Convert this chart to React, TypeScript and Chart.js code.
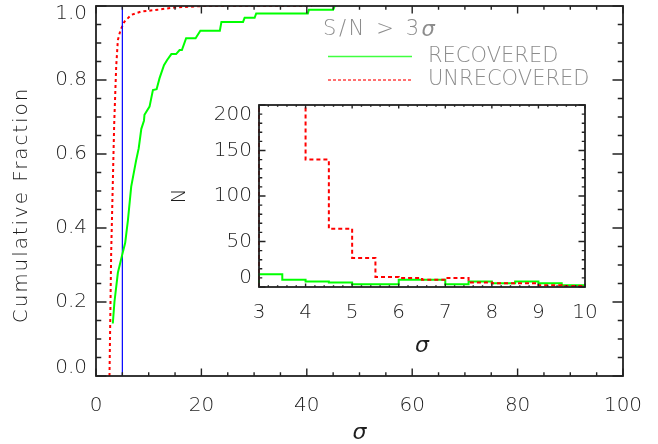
import React, { useEffect, useRef } from 'react';
import { Chart, registerables } from 'chart.js';

Chart.register(...registerables);

const FONT = "'DejaVu Sans', sans-serif";
const TEXT = '#1e1e1e';
const LEGEND_TEXT = '#8c8c8c';
const W = 300;

// ---- main panel data (cumulative fractions) ----
const recoveredSigma = [3.19, 3.5, 4.15, 4.98, 5.54, 6.05, 6.68, 7.63, 8.1, 8.6, 9.1, 9.2, 10.16, 10.8, 11.5, 12.06, 12.9, 13.5, 14.3, 15.2, 15.86, 16.3, 17.1, 18.9, 19.8, 23.5, 23.8, 27.9, 28.2, 30.1, 30.4, 40.2, 40.4, 45.0, 45.3];
const recoveredFrac = [0.142, 0.2, 0.279, 0.328, 0.36, 0.42, 0.512, 0.584, 0.615, 0.668, 0.69, 0.706, 0.728, 0.773, 0.775, 0.805, 0.84, 0.854, 0.87, 0.87, 0.881, 0.881, 0.913, 0.913, 0.933, 0.933, 0.957, 0.957, 0.968, 0.968, 0.98, 0.98, 0.99, 0.99, 1.0];
const unrecoveredSigma = [2.56, 2.88, 3.45, 3.83, 4.15, 4.65, 5.41, 6.68, 8.58, 11.7, 14.9, 20.6, 41.0];
const unrecoveredFrac = [0.0, 0.333, 0.68, 0.836, 0.908, 0.935, 0.958, 0.976, 0.985, 0.99, 0.996, 1.0, 1.0];
const thresholdSigma = 5;
const mainXTicks = [0, 20, 40, 60, 80, 100];
const mainYTicks = [0, 0.2, 0.4, 0.6, 0.8, 1.0];

// ---- inset data (histograms, bin width 0.5) ----
const binEdges = [3, 3.5, 4, 4.5, 5, 5.5, 6, 6.5, 7, 7.5, 8, 8.5, 9, 9.5, 10];
const recoveredCounts = [14, 8, 6, 5, 3, 3, 8, 8, 3, 6, 4, 6, 4, 2];
const unrecoveredCounts = [1500, 1100, 140, 64, 32, 11, 10, 8, 10, 5, 4, 4, 2, 1];
const insetXTicks = [3, 4, 5, 6, 7, 8, 9, 10];
const insetYTicks = [0, 50, 100, 150, 200];

const seriesLabels = ['RECOVERED', 'UNRECOVERED'];
const legendTitle = 'S/N > 3';
const legendTitleSymbol = 'σ';
const mainYTitle = 'Cumulative Fraction';

const GREEN = '#00ff00';
const RED = '#ff0000';
const BLUE = '#0000ff';

function zip(xs: number[], ys: number[]) {
  return xs.map((x, i) => ({ x, y: ys[i] }));
}

function histPoints(edges: number[], counts: number[]) {
  const pts = [{ x: edges[0], y: 0 }];
  edges.forEach((e, i) => pts.push({ x: e, y: counts[Math.min(i, counts.length - 1)] }));
  return pts;
}

function zeroPad(s: any) {
  s.paddingLeft = 0;
  s.paddingRight = 0;
  s.paddingTop = 0;
  s.paddingBottom = 0;
}

const framePlugin = {
  id: 'idlFrame',
  afterDatasetsDraw(chart: any, _args: any, o: any) {
    const { ctx, chartArea: a, scales } = chart;
    const xs = scales.x;
    const ys = scales.y;
    ctx.save();
    ctx.strokeStyle = '#222';
    ctx.lineWidth = 1.4;
    ctx.beginPath();
    const nx = Math.round((xs.max - xs.min) / o.xMinor);
    for (let i = 0; i <= nx; i++) {
      const v = xs.min + i * o.xMinor;
      const px = xs.getPixelForValue(v);
      const len = i % o.xEvery === 0 ? o.xLen : o.xLen / 2;
      ctx.moveTo(px, a.bottom);
      ctx.lineTo(px, a.bottom - len);
      ctx.moveTo(px, a.top);
      ctx.lineTo(px, a.top + len);
    }
    const ny = Math.round((ys.max - ys.min) / o.yMinor);
    for (let i = 0; i <= ny; i++) {
      const v = ys.min + i * o.yMinor;
      const py = ys.getPixelForValue(v);
      const len = i % o.yEvery === 0 ? o.yLen : o.yLen / 2;
      ctx.moveTo(a.left, py);
      ctx.lineTo(a.left + len, py);
      ctx.moveTo(a.right, py);
      ctx.lineTo(a.right - len, py);
    }
    ctx.stroke();
    ctx.lineWidth = 1.8;
    ctx.strokeRect(a.left, a.top, a.right - a.left, a.bottom - a.top);
    ctx.restore();
  },
};

const legendPlugin = {
  id: 'idlLegend',
  afterDraw(chart: any) {
    const { ctx, chartArea: a } = chart;
    ctx.save();
    // rotated y-axis title
    ctx.fillStyle = TEXT;
    ctx.textAlign = 'center';
    ctx.textBaseline = 'middle';
    ctx.font = `${W} 20px ${FONT}`;
    (ctx as any).letterSpacing = '1.9px';
    ctx.translate(22, (a.top + a.bottom) / 2 + 14);
    ctx.rotate(-Math.PI / 2);
    ctx.fillText(mainYTitle, 0, 0);
    ctx.setTransform(1, 0, 0, 1, 0, 0);

    // legend
    ctx.fillStyle = LEGEND_TEXT;
    ctx.textAlign = 'left';
    ctx.font = `${W} 21px ${FONT}`;
    (ctx as any).letterSpacing = '2.6px';
    ctx.fillText(legendTitle, 323, 30);
    const w = ctx.measureText(legendTitle).width;
    ctx.font = `italic ${W} 21px ${FONT}`;
    ctx.fillText(legendTitleSymbol, 323 + w, 31);
    (ctx as any).letterSpacing = '0px';
    ctx.font = `${W} 21px ${FONT}`;
    const rows = [
      { label: seriesLabels[0], color: GREEN, dash: [] as number[], y: 56.5 },
      { label: seriesLabels[1], color: RED, dash: [3, 2], y: 80 },
    ];
    rows.forEach((r) => {
      ctx.save();
      ctx.strokeStyle = r.color;
      ctx.globalAlpha = 0.75;
      ctx.lineWidth = 1.6;
      ctx.setLineDash(r.dash);
      ctx.beginPath();
      ctx.moveTo(328, r.y);
      ctx.lineTo(412, r.y);
      ctx.stroke();
      ctx.restore();
      ctx.fillText(r.label, 428, r.y);
    });
    ctx.restore();
  },
};

function edgeLabel(v: number, min: number, max: number, text: string) {
  if (Math.abs(v - max) < 1e-9) return ['', text];
  if (Math.abs(v - min) < 1e-9) return [text, ''];
  return text;
}

export default function App() {
  const mainRef = useRef<HTMLCanvasElement>(null);
  const insetRef = useRef<HTMLCanvasElement>(null);

  useEffect(() => {
    const main = new Chart(mainRef.current as HTMLCanvasElement, {
      type: 'line',
      data: {
        datasets: [
          { label: seriesLabels[0], data: zip(recoveredSigma, recoveredFrac), borderColor: GREEN, borderWidth: 2, pointRadius: 0, tension: 0 },
          { label: 'threshold', data: [{ x: thresholdSigma, y: 0 }, { x: thresholdSigma, y: 1 }], borderColor: BLUE, borderWidth: 1.2, pointRadius: 0 },
          { label: seriesLabels[1], data: zip(unrecoveredSigma, unrecoveredFrac), borderColor: RED, borderWidth: 2, borderDash: [3, 3], pointRadius: 0, tension: 0 },
        ],
      },
      options: {
        animation: false,
        responsive: false,
        devicePixelRatio: 1,
        parsing: false as any,
        layout: { padding: { left: 0, top: 6, right: 35, bottom: 0 } },
        plugins: {
          legend: { display: false },
          tooltip: { enabled: false },
          idlFrame: { xMinor: 5, xEvery: 4, xLen: 7.4, yMinor: 0.05, yEvery: 4, yLen: 10.5 },
        } as any,
        scales: {
          x: {
            type: 'linear', min: 0, max: 100,
            grid: { display: false, drawTicks: false },
            border: { display: false },
            afterBuildTicks: (s: any) => { s.ticks = mainXTicks.map((value) => ({ value })); },
            ticks: { padding: 18, color: TEXT, font: { family: FONT, size: 20, weight: W }, callback: (v: any) => String(v), maxRotation: 0 },
            title: { display: true, text: 'σ', color: TEXT, font: { family: FONT, size: 22, style: 'italic', weight: W, lineHeight: 1 }, padding: { top: 0, bottom: 0 } },
            afterFit: (s: any) => { s.height = 68; zeroPad(s); },
          },
          y: {
            type: 'linear', min: 0, max: 1,
            grid: { display: false, drawTicks: false },
            border: { display: false },
            afterBuildTicks: (s: any) => { s.ticks = mainYTicks.map((value) => ({ value })); },
            ticks: {
              padding: 9, color: TEXT, font: { family: FONT, size: 20, weight: W, lineHeight: 16 / 20 },
              callback: (v: any) => edgeLabel(Number(v), 0, 1, Number(v).toFixed(1)),
            },
            title: { display: false },
            afterFit: (s: any) => { s.width = 96; zeroPad(s); },
          },
        } as any,
      },
      plugins: [framePlugin, legendPlugin],
    });

    const inset = new Chart(insetRef.current as HTMLCanvasElement, {
      type: 'line',
      data: {
        datasets: [
          { label: seriesLabels[1], data: histPoints(binEdges, unrecoveredCounts), borderColor: RED, borderWidth: 2, borderDash: [4, 3], pointRadius: 0, stepped: true, clip: { left: 2, right: 2, top: 0, bottom: 2 } },
          { label: seriesLabels[0], data: histPoints(binEdges, recoveredCounts), borderColor: GREEN, borderWidth: 2, pointRadius: 0, stepped: true, clip: { left: 2, right: 2, top: 0, bottom: 2 } },
        ],
      },
      options: {
        animation: false,
        responsive: false,
        devicePixelRatio: 1,
        parsing: false as any,
        layout: { padding: { left: 0, top: 15, right: 15, bottom: 0 } },
        plugins: {
          legend: { display: false },
          tooltip: { enabled: false },
          idlFrame: { xMinor: 0.2, xEvery: 5, xLen: 3.6, yMinor: 10, yEvery: 5, yLen: 6.5 },
        } as any,
        scales: {
          x: {
            type: 'linear', min: 3, max: 10,
            grid: { display: false, drawTicks: false },
            border: { display: false },
            afterBuildTicks: (s: any) => { s.ticks = insetXTicks.map((value) => ({ value })); },
            ticks: { padding: 14, color: TEXT, font: { family: FONT, size: 20, weight: W }, callback: (v: any) => String(v), maxRotation: 0 },
            title: { display: true, text: 'σ', color: TEXT, font: { family: FONT, size: 22, style: 'italic', weight: W, lineHeight: 1 }, padding: { top: 0, bottom: 3 } },
            afterFit: (s: any) => { s.height = 73; zeroPad(s); },
          },
          y: {
            type: 'linear', min: 0, max: 200,
            grid: { display: false, drawTicks: false },
            border: { display: false },
            afterBuildTicks: (s: any) => { s.ticks = insetYTicks.map((value) => ({ value })); },
            ticks: {
              padding: 7, color: TEXT, font: { family: FONT, size: 20, weight: W, lineHeight: 19 / 20 },
              callback: (v: any) => edgeLabel(Number(v), 0, 200, String(v)),
            },
            title: { display: true, text: 'N', color: TEXT, font: { family: FONT, size: 20, weight: W, lineHeight: 1 }, padding: { top: 10, bottom: 0 } },
            afterFit: (s: any) => { s.width = 99; zeroPad(s); },
          },
        } as any,
      },
      plugins: [framePlugin],
    });

    return () => {
      main.destroy();
      inset.destroy();
    };
  }, []);

  return (
    <div style={{ position: 'fixed', left: 0, top: 0, width: 658, height: 444, background: '#fff' }}>
      <canvas ref={mainRef} width={658} height={444} style={{ position: 'absolute', left: 0, top: 0, width: 658, height: 444 }} />
      <canvas ref={insetRef} width={440} height={270} style={{ position: 'absolute', left: 160, top: 90, width: 440, height: 270 }} />
    </div>
  );
}
